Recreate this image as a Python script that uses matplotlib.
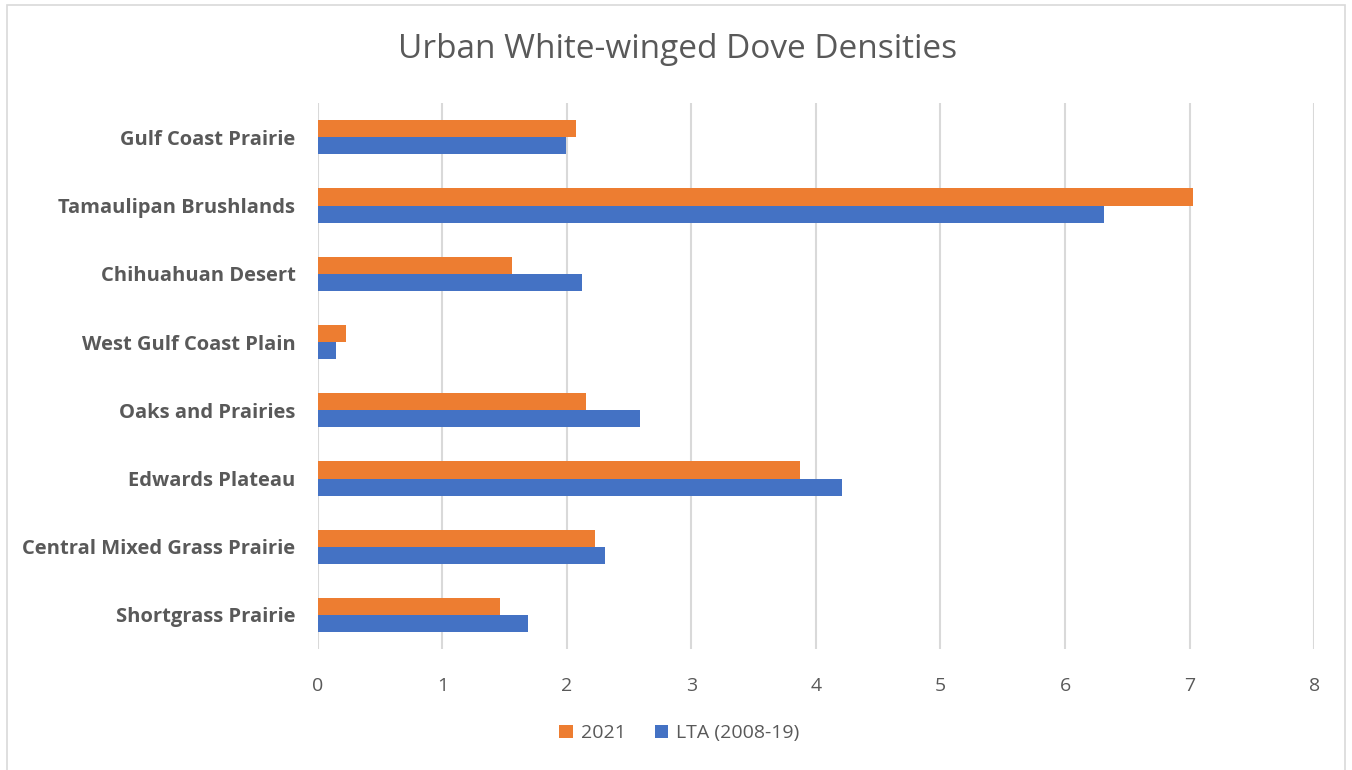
import matplotlib
matplotlib.use("Agg")
import matplotlib.pyplot as plt
import numpy as np
from matplotlib.patches import Rectangle

regions = ["Gulf Coast Prairie", "Tamaulipan Brushlands", "Chihuahuan Desert",
           "West Gulf Coast Plain", "Oaks and Prairies", "Edwards Plateau",
           "Central Mixed Grass Prairie", "Shortgrass Prairie"]
val_2021 = [2.07, 7.03, 1.56, 0.23, 2.15, 3.87, 2.23, 1.46]
val_lta = [1.99, 6.31, 2.12, 0.15, 2.59, 4.21, 2.31, 1.69]

orange = "#ED7D31"
blue = "#4472C4"
grey_txt = "#595959"

plt.rcParams['font.family'] = ['Open Sans', 'DejaVu Sans']

fig = plt.figure(figsize=(13.52, 7.7), dpi=100)
ax = fig.add_axes([0.235, 0.157, 0.737, 0.709])

y = np.arange(len(regions))
h = 0.25
ax.barh(y - h/2, val_2021, height=h, color=orange, label="2021", zorder=3)
ax.barh(y + h/2, val_lta, height=h, color=blue, label="LTA (2008-19)", zorder=3)

ax.set_xlim(0, 8)
ax.set_ylim(len(regions) - 0.5, -0.5)
ax.set_xticks(range(0, 9))
ax.set_yticks(y)
ax.set_yticklabels(regions, fontsize=14.5, fontweight='bold', color=grey_txt)
ax.tick_params(axis='x', labelsize=14, colors=grey_txt, length=0, pad=20)
ax.tick_params(axis='y', length=0, pad=16)
ax.grid(axis='x', color="#d9d9d9", linewidth=1.5, zorder=0)
for s in ax.spines.values():
    s.set_visible(False)

fig.text(0.501, 0.936, "Urban White-winged Dove Densities", ha='center', va='center',
         fontsize=24, color=grey_txt)

ax.legend(loc='center', bbox_to_anchor=(0.363, -0.154), ncol=2, frameon=False,
          fontsize=14, labelcolor=grey_txt, handlelength=0.7, handleheight=0.7,
          columnspacing=1.5, handletextpad=0.4)

fig.patches.append(Rectangle((0.005, -0.01), 0.99, 1.003, transform=fig.transFigure,
                             fill=False, edgecolor="#d9d9d9", linewidth=1.2))

fig.savefig("out.png", dpi=100)
